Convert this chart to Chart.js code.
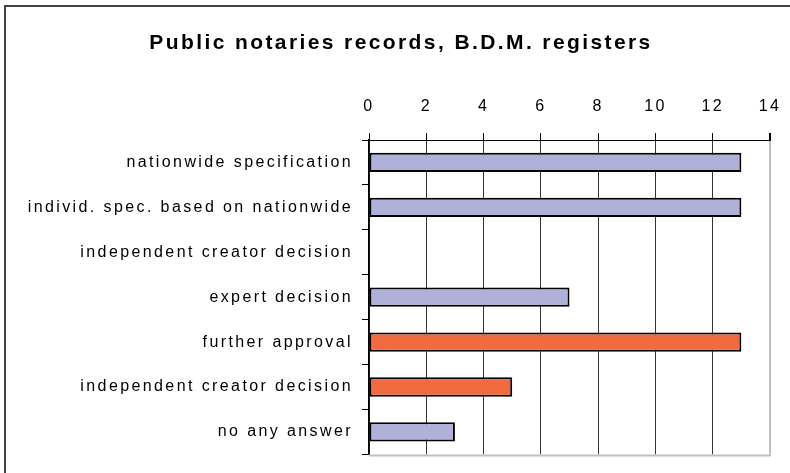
<!DOCTYPE html>
<html>
<head>
<meta charset="utf-8">
<script src="https://cdn.jsdelivr.net/npm/chart.js@4"></script>
<style>
    html, body { margin: 0; padding: 0; background: #fff; }
    #box { position: relative; width: 790px; height: 473px; }
</style>
</head>
<body>
<div id="box"><canvas id="graphique" width="790" height="473"></canvas></div>
<script>
const titre = "Public notaries records, B.D.M. registers";

const categories = [
    "nationwide specification",
    "individ. spec. based on nationwide",
    "independent creator decision",
    "expert decision",
    "further approval",
    "independent creator decision",
    "no any answer"
];

const valeurs = [13, 13, 0, 7, 13, 5, 3];

// graduations de l'axe du haut
const axeMin = 0;
const axeMax = 14;
const axePas = 2;

// les deux réponses "approbation" sont en orange
const couleurs = ["#afb1d9", "#afb1d9", "#afb1d9", "#afb1d9", "#f26b3f", "#f26b3f", "#afb1d9"];

const espacement = "2.4px";

// espacement des lettres + cadre extérieur + bord gris du graphique
const pluginCadre = {
    id: "cadre",
    beforeUpdate (chart) {
        chart.ctx.letterSpacing = espacement;
    },
    afterLayout (chart) {
        // les libellés longs ne doivent pas être coupés par la marge gauche
        chart.scales.y.left = 0;
    },
    beforeDraw (chart) {
        const ctx = chart.ctx;
        ctx.letterSpacing = espacement;
        ctx.save();
        ctx.fillStyle = "#444";
        ctx.fillRect(4, 5, 786, 2);
        ctx.fillRect(4, 5, 2, 468);
        ctx.restore();
    },
    afterDatasetsDraw (chart) {
        const ctx = chart.ctx;
        const a = chart.chartArea;
        ctx.save();
        ctx.strokeStyle = "#c0c0c0";
        ctx.lineWidth = 2;
        ctx.beginPath();
        ctx.moveTo(a.left, a.bottom + 1);
        ctx.lineTo(a.right + 1, a.bottom + 1);
        ctx.stroke();
        ctx.restore();
    }
};

Chart.defaults.font.family = "Arial, 'Liberation Sans', sans-serif";
Chart.defaults.color = "#000";

new Chart(document.getElementById("graphique"), {
    type: "bar",
    data: {
        labels: categories,
        datasets: [{
            data: valeurs,
            backgroundColor: couleurs,
            borderColor: "#000",
            borderWidth: 2,
            borderSkipped: false,
            barPercentage: 0.43,
            categoryPercentage: 1
        }]
    },
    options: {
        indexAxis: "y",
        responsive: false,
        animation: false,
        devicePixelRatio: 1,
        layout: { padding: { left: 32, right: 20, top: 0, bottom: 16 } },
        plugins: {
            legend: { display: false },
            tooltip: { enabled: false },
            title: {
                display: true,
                text: titre,
                font: { size: 21, weight: "bold" },
                color: "#000",
                padding: { top: 31, bottom: 0 }
            }
        },
        scales: {
            x: {
                position: "top",
                min: axeMin,
                max: axeMax,
                ticks: { stepSize: axePas, padding: 17, font: { size: 16 } },
                grid: {
                    color: (c) => c.tick && c.tick.value === axeMax ? "#c0c0c0" : "#333",
                    lineWidth: (c) => c.tick && c.tick.value === axeMax ? 2 : 1,
                    tickColor: "#000",
                    tickLength: 7
                },
                border: { color: "#000", width: 1 },
                afterFit (s) {
                    s.height = 83.8;
                    s.paddingLeft = 0;
                    s.paddingRight = 0;
                }
            },
            y: {
                ticks: { padding: 9, font: { size: 16 } },
                grid: {
                    drawOnChartArea: false,
                    offset: true,
                    tickColor: "#000",
                    tickLength: 7
                },
                border: { color: "#000", width: 1.5 },
                afterFit (s) { s.width = 337; }
            }
        }
    },
    plugins: [pluginCadre]
});
</script>
</body>
</html>
